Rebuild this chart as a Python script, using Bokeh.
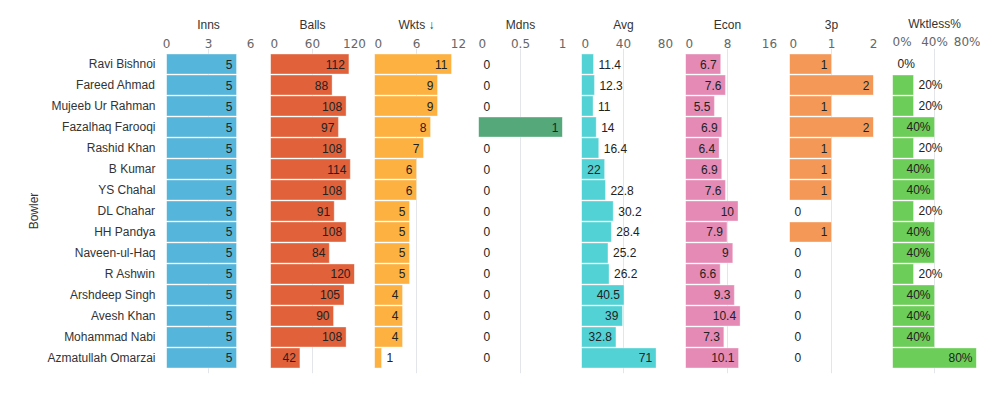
from bokeh.plotting import figure
from bokeh.models import FactorRange, Range1d, FixedTicker, ColumnDataSource, NumeralTickFormatter
from bokeh.layouts import row
from bokeh.embed import file_html
from bokeh.resources import INLINE
from bokeh.core.properties import value

bowlers = ["Ravi Bishnoi", "Fareed Ahmad", "Mujeeb Ur Rahman", "Fazalhaq Farooqi", "Rashid Khan",
           "B Kumar", "YS Chahal", "DL Chahar", "HH Pandya", "Naveen-ul-Haq", "R Ashwin",
           "Arshdeep Singh", "Avesh Khan", "Mohammad Nabi", "Azmatullah Omarzai"]
inns = [5, 5, 5, 5, 5, 5, 5, 5, 5, 5, 5, 5, 5, 5, 5]
balls = [112, 88, 108, 97, 108, 114, 108, 91, 108, 84, 120, 105, 90, 108, 42]
wkts = [11, 9, 9, 8, 7, 6, 6, 5, 5, 5, 5, 4, 4, 4, 1]
mdns = [0, 0, 0, 1, 0, 0, 0, 0, 0, 0, 0, 0, 0, 0, 0]
avg = [11.4, 12.3, 11, 14, 16.4, 22, 22.8, 30.2, 28.4, 25.2, 26.2, 40.5, 39, 32.8, 71]
econ = [6.7, 7.6, 5.5, 6.9, 6.4, 6.9, 7.6, 10, 7.9, 9, 6.6, 9.3, 10.4, 7.3, 10.1]
three_p = [1, 2, 1, 2, 1, 1, 1, 0, 1, 0, 0, 0, 0, 0, 0]
wktless = [0, 0.2, 0.2, 0.4, 0.2, 0.4, 0.4, 0.2, 0.4, 0.4, 0.2, 0.4, 0.4, 0.4, 0.8]

titles = ["Inns", "Balls", "Wkts \u2193", "Mdns", "Avg", "Econ", "3p", "Wktless%"]
series = [inns, balls, wkts, mdns, avg, econ, three_p, wktless]
domains = [6, 120, 12, 1, 80, 16, 2, 0.8]
ticks = [[0, 3, 6], [0, 60, 120], [0, 6, 12], [0, 0.5, 1], [0, 40, 80], [0, 8, 16], [0, 1, 2], [0, 0.4, 0.8]]
colors = ["#55b5da", "#e0613a", "#fdb140", "#55a87a", "#52d2d4", "#e48ab5", "#f49858", "#6ccd58"]

FRAME_W = 84
FRAME_H = 325
gaps = [20, 20, 20, 19, 20, 20, 19, 4]

ARIAL = value("Liberation Sans")


def fmt(v, pct):
    if pct:
        return "%d%%" % round(v * 100)
    return "%g" % v


figs = []
for i, (title, vals, dmax, tk, col) in enumerate(zip(titles, series, domains, ticks, colors)):
    pct = title.startswith("Wktless")
    first = i == 0
    p = figure(
        x_range=Range1d(0, dmax),
        y_range=FactorRange(factors=list(reversed(bowlers)), range_padding=0.24, range_padding_units="absolute"),
        x_axis_location="above",
        y_axis_location="left" if first else None,
        frame_width=FRAME_W, frame_height=FRAME_H,
        min_border_left=166 if first else 0,
        min_border_right=gaps[i], min_border_top=48, min_border_bottom=4,
        output_backend="svg", toolbar_location=None,
    )
    p.outline_line_color = None
    p.background_fill_color = "white"
    p.border_fill_color = "white"
    p.ygrid.visible = False
    p.xgrid.grid_line_color = "#e2e6ea"
    p.xgrid.ticker = FixedTicker(ticks=tk)

    ax = p.xaxis[0]
    ax.ticker = FixedTicker(ticks=tk)
    ax.axis_line_color = None
    ax.major_tick_line_color = None
    ax.minor_tick_line_color = None
    ax.major_tick_out = 0
    ax.major_tick_in = 0
    ax.major_label_standoff = 0 if pct else 1
    ax.major_label_text_font = "DejaVu Sans"
    ax.major_label_text_font_size = "12px"
    ax.major_label_text_color = "#666666"
    ax.axis_label = title
    ax.axis_label_standoff = 1 if pct else 4
    ax.axis_label_text_font = "Liberation Sans"
    ax.axis_label_text_font_size = "12px"
    ax.axis_label_text_font_style = "normal"
    ax.axis_label_text_color = "#333333"
    if pct:
        ax.formatter = NumeralTickFormatter(format="0%")

    if first:
        ya = p.yaxis[0]
        ya.axis_line_color = None
        ya.major_tick_line_color = None
        ya.minor_tick_line_color = None
        ya.major_tick_out = 0
        ya.major_tick_in = 0
        ya.major_label_standoff = 11
        ya.major_label_text_font = "Liberation Sans"
        ya.major_label_text_font_size = "12px"
        ya.major_label_text_color = "#333333"
        ya.axis_label = "Bowler"
        ya.axis_label_standoff = 3
        ya.axis_label_text_font = "Liberation Sans"
        ya.axis_label_text_font_size = "12px"
        ya.axis_label_text_font_style = "normal"
        ya.axis_label_text_color = "#333333"

    labels = [fmt(v, pct) for v in vals]
    src = ColumnDataSource(dict(bowler=bowlers, v=vals, label=labels))
    p.hbar(y="bowler", left=0, right="v", height=0.95, source=src,
           fill_color=col, line_color="white", line_alpha=0.35, line_width=1)

    ins = dict(bowler=[], v=[], label=[])
    outs = dict(bowler=[], v=[], label=[])
    for b, v, lab in zip(bowlers, vals, labels):
        bar_px = v / dmax * FRAME_W
        need = len(lab) * 5.5 + 12
        tgt = ins if bar_px >= need else outs
        tgt["bowler"].append(b)
        tgt["v"].append(v)
        tgt["label"].append(lab)
    p.text(x="v", y="bowler", text="label", source=ColumnDataSource(ins),
           text_align="right", text_baseline="middle", x_offset=-4,
           text_font=ARIAL, text_font_size="12px", text_color="#222222")
    p.text(x="v", y="bowler", text="label", source=ColumnDataSource(outs),
           text_align="left", text_baseline="middle", x_offset=5,
           text_font=ARIAL, text_font_size="12px", text_color="#222222")
    figs.append(p)

layout = row(*figs, spacing=0)
open("out.html", "w").write(file_html(layout, INLINE))
